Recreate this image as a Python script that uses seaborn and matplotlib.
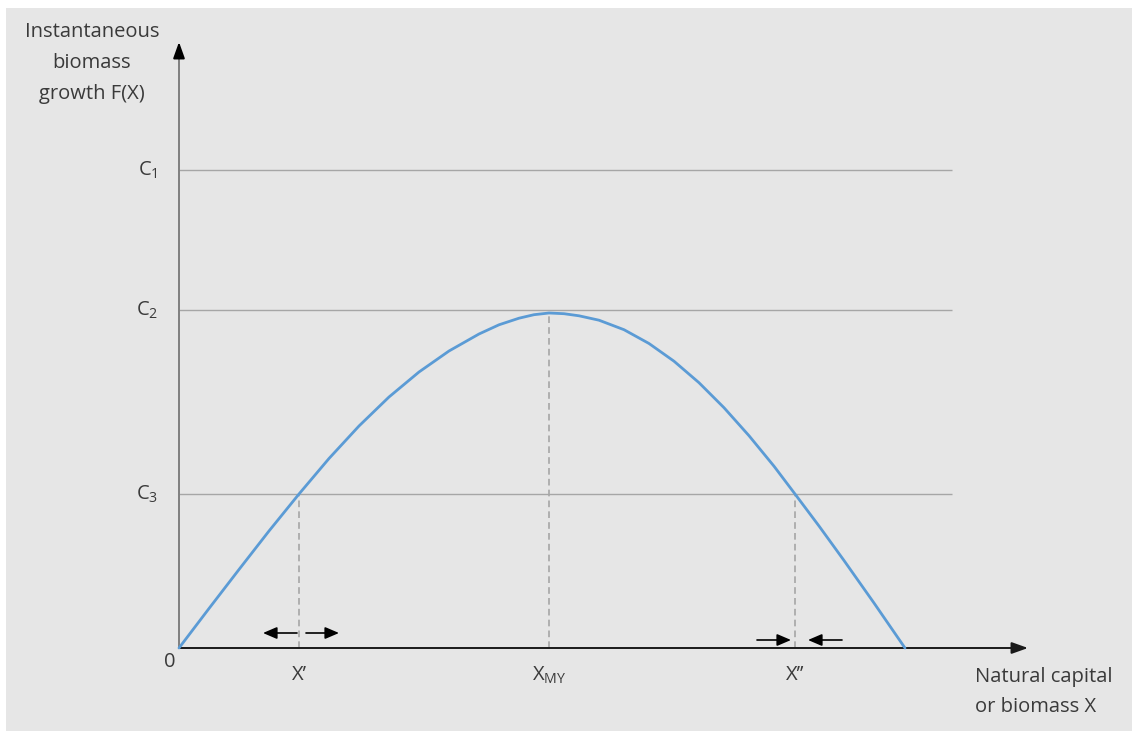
import matplotlib
matplotlib.use('Agg')
import pandas as pd
import matplotlib.pyplot as plt
import seaborn as sns

# biomass stock X and growth F(X)
stock_x = [0.00, 0.30, 0.60, 0.90, 1.20, 1.50, 1.80, 2.10, 2.40, 2.70, 3.00, 3.20, 3.40, 3.55, 3.70,
           3.85, 4.00, 4.20, 4.45, 4.70, 4.95, 5.20, 5.45, 5.70, 5.95, 6.16, 6.40, 6.65, 6.95, 7.26]
growth_y = [0.00, 0.395, 0.785, 1.17, 1.54, 1.895, 2.22, 2.51, 2.76, 2.97, 3.14, 3.232, 3.298, 3.333, 3.35,
            3.343, 3.322, 3.278, 3.183, 3.045, 2.868, 2.653, 2.403, 2.123, 1.818, 1.54, 1.22, 0.875, 0.45, 0.00]

harvest_levels = [4.78, 3.38, 1.54]
harvest_labels = ['C$_1$', 'C$_2$', 'C$_3$']

equilibria_x = [1.20, 3.70, 6.16]
equilibria_y = [1.54, 3.35, 1.54]
equilibria_labels = ['X\u2019', 'X$_{MY}$', 'X\u2019\u2019']

sns.set_theme(style='white')
plt.rcParams['font.family'] = ['Open Sans', 'DejaVu Sans']
plt.rcParams['mathtext.fontset'] = 'custom'
plt.rcParams['mathtext.rm'] = 'Open Sans'
plt.rcParams['mathtext.default'] = 'regular'

txt = '#3a3a3a'
grid = '#a6a6a6'
fs = 14.5

fig = plt.figure(figsize=(11.32, 7.31), dpi=100, facecolor='white')
ax = fig.add_axes([6 / 1132, 0, 1126 / 1132, 723 / 731])
ax.set_xlim(-1.73, 9.53)
ax.set_ylim(-0.83, 6.40)
ax.axis('off')
ax.add_patch(plt.Rectangle((0, 0), 1, 1, transform=ax.transAxes, color='#e6e6e6', zorder=0))

# harvest levels
ax.hlines(harvest_levels, 0, 7.73, color=grid, lw=1.0, zorder=1)
for lvl, lab in zip(harvest_levels, harvest_labels):
    ax.text(-0.21, lvl, lab, ha='right', va='center', fontsize=fs, color=txt)

# dashed drops from the equilibria
ax.vlines(equilibria_x, 0, equilibria_y, colors=grid, linestyles=(0, (4, 2.5)), lw=1.2, zorder=1)
for ex, lab in zip(equilibria_x, equilibria_labels):
    ax.text(ex, -0.27, lab, ha='center', va='center', fontsize=fs, color=txt)

# growth curve
df = pd.DataFrame({'X': stock_x, 'F': growth_y})
sns.lineplot(data=df, x='X', y='F', ax=ax, color='#5b9bd5', lw=2.0, sort=False, zorder=3)

# axes with arrows
ax.plot([0, 0], [0, 5.95], color='#7f7f7f', lw=1.4, zorder=2)
ax.annotate('', xy=(0, 6.06), xytext=(0, 5.9),
            arrowprops=dict(arrowstyle='-|>,head_length=0.7,head_width=0.25', color='black',
                            lw=1.4, mutation_scale=14, shrinkA=0, shrinkB=0))
ax.annotate('', xy=(8.49, 0), xytext=(0, 0),
            arrowprops=dict(arrowstyle='-|>,head_length=0.7,head_width=0.25', color='#1a1a1a',
                            lw=1.4, mutation_scale=14, shrinkA=0, shrinkB=0), zorder=2)

# stability arrows
small = dict(arrowstyle='-|>,head_length=0.7,head_width=0.3', color='black',
             lw=1.2, mutation_scale=12, shrinkA=0, shrinkB=0)
for x0, x1, yy in [(1.18, 0.84, 0.15), (1.27, 1.60, 0.15), (5.78, 6.12, 0.08), (6.63, 6.29, 0.08)]:
    ax.annotate('', xy=(x1, yy), xytext=(x0, yy), arrowprops=small)

ax.text(-0.09, -0.14, '0', ha='center', va='center', fontsize=fs, color=txt)
ax.text(-0.87, 5.85, 'Instantaneous\nbiomass\ngrowth F(X)', ha='center', va='center',
        fontsize=fs, color=txt, linespacing=1.75)
ax.text(7.96, -0.44, 'Natural capital\nor biomass X', ha='left', va='center',
        fontsize=fs, color=txt, linespacing=1.72)

fig.savefig('out.png', dpi=100, facecolor='white')
